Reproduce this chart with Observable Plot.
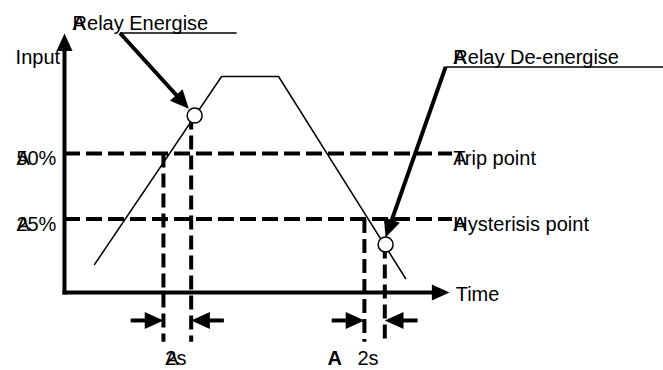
<!DOCTYPE html>
<html><head><meta charset="utf-8">
<script src="https://cdn.jsdelivr.net/npm/d3@7"></script>
<script src="https://cdn.jsdelivr.net/npm/@observablehq/plot@0.6"></script>
<style>body{margin:0;background:#fff} svg{display:block}</style>
</head><body><div id="chart"></div>
<script>
// ---- data (schematic units: time 0-100, input 0-100) ----
const curveTime  = [7.8, 40.8, 55.6, 88.6];
const curveInput = [10.8, 83.4, 83.4, 5.4];
const levelNames = ["Trip point", "Hysterisis point"];
const levelTicks = ["50%", "25%"];
const levelInput = [53.7, 28.4];
const eventNames = ["Relay Energise", "Relay De-energise"];
const eventTime  = [33.8, 83.4];
const eventInput = [68.3, 18.5];
const crossTime  = [25.7, 77.9];   // threshold crossing (dashed)
const relayTime  = [32.9, 83.2];   // relay switching (dashed)
const delayLabels = ["2s", "2s"];
const axisLabels = ["Input", "Time"];
const marker = "A";

// ---- layout ----
const xOpt = {domain: [0, 100], range: [64, 449]};
const yOpt = {domain: [0, 100], range: [292, 33]};
const sx = Plot.scale({x: xOpt}), sy = Plot.scale({y: yOpt});
const font = "'Liberation Sans', Arial, Helvetica, sans-serif";
const FS = 20;
const HEAD = 2.2;

const head = {draw(ctx, size) {
  const k = Math.sqrt(size / Math.PI);
  ctx.moveTo(0, 0); ctx.lineTo(-k, HEAD * k); ctx.lineTo(k, HEAD * k); ctx.closePath();
}};

function arrow(x1, y1, x2, y2, r = 8.5) {
  const px1 = sx.apply(x1), py1 = sy.apply(y1), px2 = sx.apply(x2), py2 = sy.apply(y2);
  const dx = px2 - px1, dy = py2 - py1, len = Math.hypot(dx, dy);
  const L = r * HEAD - 1;
  return {x1, y1, x2: sx.invert(px2 - dx / len * L), y2: sy.invert(py2 - dy / len * L),
          tx: x2, ty: y2, angle: Math.atan2(dx, -dy) * 180 / Math.PI};
}

const axes = [arrow(0, 0, 0, 100, 8), arrow(0, 0, 100, 0, 8.5)];
const dimY = -10.8, dimLen = 8.5, dashBottom = -19;
const pointers = [
  arrow(14.4, 100.2, eventTime[0] - 1.5, eventInput[0] + 2.6),
  arrow(99.0, 87.1, eventTime[1], eventInput[1] + 2.7)
];
crossTime.forEach((t, i) => {
  pointers.push(arrow(t - dimLen, dimY, t, dimY));
  pointers.push(arrow(relayTime[i] + dimLen, dimY, relayTime[i], dimY));
});

const curve = curveTime.map((t, i) => ({t, v: curveInput[i]}));
const levels = levelInput.map((v, i) => ({v, name: levelNames[i], tick: levelTicks[i]}));
const events = eventTime.map((t, i) => ({t, v: eventInput[i], name: eventNames[i]}));
const vDash = [
  ...crossTime.map((t, i) => ({x: t, y1: levelInput[i], y2: dashBottom})),
  ...relayTime.map((t, i) => ({x: t, y1: eventInput[i], y2: dashBottom}))
];
const underlines = [
  {x1: 14.4, x2: 44.7, y: 100.2},
  {x1: 99.0, x2: 160, y: 87.1}
];
const eventLabelPos = [{x: 2.1, y: 101.5}, {x: 101.0, y: 88.4}];
const tickX = -12.5, nameX = 101.0;
const delayStart = [26.2, 76.1];
const delayY = -28.0;

const txt = {fontSize: FS, fontFamily: font, fill: "black", lineAnchor: "bottom", textAnchor: "start"};
const startTexts = [
  {x: -12.7, y: 88.4, s: axisLabels[0]},
  {x: 101.6, y: -3.1, s: axisLabels[1]},
  ...events.map((e, i) => ({x: eventLabelPos[i].x, y: eventLabelPos[i].y, s: e.name, m: true})),
  ...levels.map(l => ({x: nameX, y: l.v, dy: 1, s: l.name, m: true})),
  ...levels.map(l => ({x: tickX, y: l.v, dy: 1, s: l.tick, m: true})),
  ...delayLabels.map((s, i) => ({x: delayStart[i], y: delayY, s, m: i === 0}))
];
const plain = startTexts.filter(d => !d.dy);
const shifted = startTexts.filter(d => d.dy);
const markers = startTexts.filter(d => d.m);

const chart = Plot.plot({
  width: 663, height: 370,
  marginTop: 0, marginRight: 0, marginBottom: 0, marginLeft: 0,
  x: {...xOpt, axis: null}, y: {...yOpt, axis: null},
  style: {background: "white", overflow: "visible"},
  marks: [
    // dashed thresholds
    Plot.ruleY(levels, {y: "v", x1: 0, x2: 100.8, stroke: "black", strokeWidth: 4, strokeDasharray: "16,6"}),
    Plot.link(vDash, {x1: "x", x2: "x", y1: "y1", y2: "y2", stroke: "black", strokeWidth: 4, strokeDasharray: "14,6"}),
    // input curve
    Plot.line(curve, {x: "t", y: "v", stroke: "black", strokeWidth: 1.5}),
    // axes
    Plot.link(axes, {x1: "x1", y1: "y1", x2: "x2", y2: "y2", stroke: "black", strokeWidth: 4, strokeLinecap: "square"}),
    Plot.dot(axes, {x: "tx", y: "ty", r: 8, symbol: head, rotate: "angle", fill: "black", stroke: "none"}),
    // pointer and dimension arrows
    Plot.link(underlines, {x1: "x1", x2: "x2", y1: "y", y2: "y", stroke: "black", strokeWidth: 1.5}),
    Plot.link(pointers, {x1: "x1", y1: "y1", x2: "x2", y2: "y2", stroke: "black", strokeWidth: 4}),
    Plot.dot(pointers, {x: "tx", y: "ty", r: 8.5, symbol: head, rotate: "angle", fill: "black", stroke: "none"}),
    // relay switching points
    Plot.dot(events, {x: "t", y: "v", r: 7.5, fill: "white", stroke: "black", strokeWidth: 1.5}),
    // labels
    Plot.text(plain, {...txt, x: "x", y: "y", text: "s"}),
    Plot.text(shifted, {...txt, x: "x", y: "y", text: "s", dy: 12}),
    Plot.text(markers.filter(d => !d.dy), {...txt, x: "x", y: "y", text: () => marker}),
    Plot.text(markers.filter(d => d.dy), {...txt, x: "x", y: "y", text: () => marker, dy: 12}),
    Plot.text([{x: 68.3, y: delayY}], {...txt, x: "x", y: "y", text: () => marker, fontWeight: "bold"})
  ]
});
document.getElementById("chart").append(chart);
</script>
</body></html>
